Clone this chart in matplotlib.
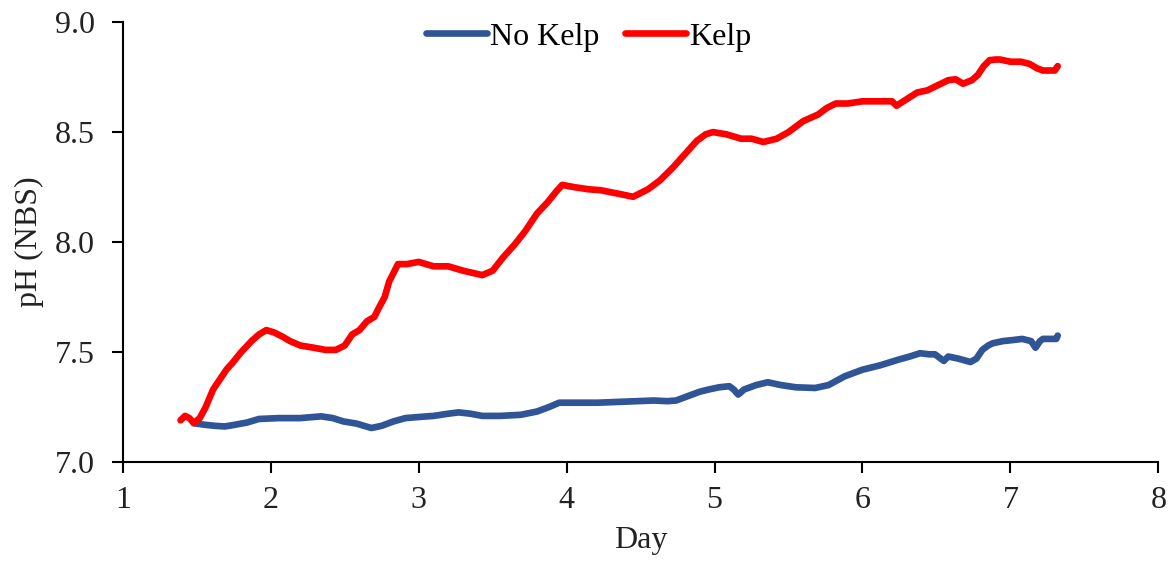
import numpy as np
import matplotlib
matplotlib.use('Agg')
import matplotlib.pyplot as plt

plt.rcParams['font.family'] = ['Liberation Serif', 'DejaVu Serif']

# ============================================================
# DATA
# ============================================================
kelp_day = [1.39, 1.42, 1.45, 1.48, 1.52, 1.56, 1.61, 1.66, 1.70, 1.74, 1.80, 1.87, 1.92,
            1.97, 2.02, 2.08, 2.13, 2.20, 2.29, 2.37, 2.44, 2.50, 2.55, 2.60, 2.65, 2.70,
            2.73, 2.77, 2.80, 2.83, 2.86, 2.92, 3.00, 3.10, 3.20, 3.30, 3.43, 3.50, 3.57,
            3.65, 3.72, 3.80, 3.87, 3.93, 3.97, 4.05, 4.15, 4.23, 4.35, 4.45, 4.55, 4.63,
            4.72, 4.80, 4.88, 4.94, 4.99, 5.08, 5.18, 5.25, 5.33, 5.42, 5.50, 5.60, 5.70,
            5.76, 5.82, 5.90, 6.00, 6.08, 6.14, 6.20, 6.23, 6.30, 6.37, 6.44, 6.50, 6.58,
            6.63, 6.68, 6.74, 6.78, 6.82, 6.86, 6.90, 6.93, 7.00, 7.07, 7.13, 7.18, 7.22,
            7.26, 7.30, 7.32]
kelp_ph = [7.19, 7.21, 7.20, 7.177, 7.20, 7.25, 7.33, 7.38, 7.42, 7.45, 7.50, 7.55, 7.58,
           7.60, 7.59, 7.57, 7.55, 7.53, 7.52, 7.51, 7.51, 7.53, 7.58, 7.60, 7.64, 7.66,
           7.70, 7.75, 7.82, 7.86, 7.90, 7.90, 7.91, 7.89, 7.89, 7.87, 7.85, 7.87, 7.93,
           7.99, 8.05, 8.13, 8.18, 8.23, 8.26, 8.25, 8.24, 8.236, 8.22, 8.206, 8.24, 8.28,
           8.34, 8.40, 8.46, 8.49, 8.50, 8.49, 8.47, 8.47, 8.455, 8.47, 8.50, 8.55, 8.58,
           8.61, 8.63, 8.63, 8.64, 8.64, 8.64, 8.64, 8.62, 8.65, 8.68, 8.69, 8.71, 8.736,
           8.74, 8.72, 8.736, 8.76, 8.80, 8.827, 8.83, 8.83, 8.82, 8.82, 8.81, 8.79, 8.78,
           8.78, 8.78, 8.80]

nokelp_day = [1.48, 1.55, 1.62, 1.69, 1.76, 1.84, 1.92, 2.05, 2.20, 2.34, 2.42, 2.49, 2.58,
              2.68, 2.75, 2.83, 2.91, 3.00, 3.10, 3.20, 3.27, 3.35, 3.43, 3.55, 3.69, 3.80,
              3.88, 3.95, 4.05, 4.21, 4.40, 4.59, 4.68, 4.74, 4.82, 4.90, 4.96, 5.03, 5.10,
              5.13, 5.16, 5.20, 5.28, 5.36, 5.45, 5.55, 5.68, 5.77, 5.88, 6.00, 6.12, 6.24,
              6.32, 6.39, 6.45, 6.49, 6.55, 6.58, 6.65, 6.73, 6.77, 6.81, 6.85, 6.88, 6.95,
              7.02, 7.08, 7.14, 7.17, 7.20, 7.22, 7.27, 7.31, 7.32]
nokelp_ph = [7.177, 7.17, 7.165, 7.162, 7.17, 7.18, 7.196, 7.20, 7.20, 7.208, 7.20, 7.185,
             7.175, 7.155, 7.165, 7.185, 7.20, 7.205, 7.21, 7.22, 7.226, 7.22, 7.21, 7.21,
             7.215, 7.23, 7.25, 7.27, 7.27, 7.27, 7.275, 7.28, 7.277, 7.28, 7.30, 7.32, 7.33,
             7.34, 7.345, 7.33, 7.307, 7.33, 7.35, 7.363, 7.35, 7.34, 7.337, 7.35, 7.39,
             7.42, 7.44, 7.465, 7.48, 7.495, 7.49, 7.49, 7.46, 7.48, 7.47, 7.455, 7.47, 7.51,
             7.53, 7.54, 7.55, 7.555, 7.56, 7.55, 7.52, 7.55, 7.56, 7.56, 7.56, 7.575]

x_ticks = [1, 2, 3, 4, 5, 6, 7, 8]
y_ticks = [7.0, 7.5, 8.0, 8.5, 9.0]

blue = '#2F5597'
red = '#FF0000'
txt = '#222222'

# ============================================================
# PLOT
# ============================================================
fig = plt.figure(figsize=(11.7, 5.67), dpi=100)
ax = fig.add_axes([0.105, 0.185, 0.885, 0.776])

ax.plot(nokelp_day, nokelp_ph, color=blue, lw=4.8, label='No Kelp', solid_capstyle='round')
ax.plot(kelp_day, kelp_ph, color=red, lw=4.8, label='Kelp', solid_capstyle='round')

ax.set_xlim(1, 8)
ax.set_ylim(7.0, 9.0)
ax.set_xticks(x_ticks)
ax.set_xticklabels([str(t) for t in x_ticks])
ax.set_yticks(y_ticks)
ax.set_yticklabels([f"{t:.1f}" for t in y_ticks])

for s in ['top', 'right']:
    ax.spines[s].set_visible(False)
for s in ['left', 'bottom']:
    ax.spines[s].set_linewidth(1.5)
    ax.spines[s].set_color('black')

ax.tick_params(axis='both', direction='out', length=8, width=1.5, labelsize=23, colors=txt)
ax.tick_params(axis='both', color='black')
ax.tick_params(axis='x', pad=9)
ax.tick_params(axis='y', pad=12)

ax.set_xlabel('Day', fontsize=23, color=txt, labelpad=8)
ax.set_ylabel('pH (NBS)', fontsize=23, color=txt, labelpad=8)

fig.legend(loc='center', bbox_to_anchor=(0.503, 0.935), ncol=2, frameon=False,
           fontsize=23, handlelength=1.9, handletextpad=0.1, columnspacing=0.8)

plt.savefig('out.png', dpi=100)
